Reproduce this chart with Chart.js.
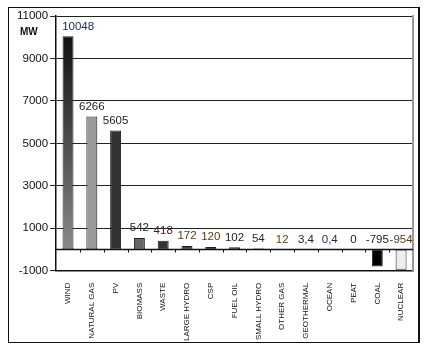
<!DOCTYPE html>
<html>
<head>
<meta charset="utf-8">
<script src="https://cdn.jsdelivr.net/npm/chart.js@4"></script>
<style>
  html, body { margin: 0; padding: 0; background: #fff; }
  body { width: 429px; height: 352px; position: relative; overflow: hidden; }
  #frame { position: absolute; left: 8px; top: 7px; width: 409px; height: 334px; border: 1.5px solid #111; border-right-width: 2px; }
  #mw { position: absolute; left: 20px; top: 26px; font: bold 10px "Liberation Sans", Arial, sans-serif; color: #111; }
  #capacityChart { position: absolute; left: 0; top: 0; }
</style>
</head>
<body>
<div id="frame"></div>
<canvas id="capacityChart" width="429" height="352"></canvas>
<div id="mw">MW</div>
<script>
// net installed capacity change by source (MW)
var labels = ["WIND", "NATURAL GAS", "PV", "BIOMASS", "WASTE", "LARGE HYDRO", "CSP", "FUEL OIL",
              "SMALL HYDRO", "OTHER GAS", "GEOTHERMAL", "OCEAN", "PEAT", "COAL", "NUCLEAR"];
var values = [10048, 6266, 5605, 542, 418, 172, 120, 102, 54, 12, 3.4, 0.4, 0, -795, -954];
var valueText = ["10048", "6266", "5605", "542", "418", "172", "120", "102", "54", "12", "3,4", "0,4", "0", "-795", "-954"];
var barColors = ["#555555", "#999999", "#333333", "#666666", "#333333", "#444444", "#222222", "#777777",
                 "#111111", "#333333", "#333333", "#333333", "#333333", "#000000", "#eeeeee"];
var labelColors = ["#1a2550", "#222222", "#222222", "#222222", "#4a1a1a", "#5a3a10", "#5a3a10", "#222222",
                   "#1a2550", "#6a4010", "#222222", "#1a2550", "#222222", "#222222", "#5a3a10"];
var yTicks = [-1000, 1000, 3000, 5000, 7000, 9000, 11000];

var ctx = document.getElementById("capacityChart");

// wind bar has a dark-top gradient like the original
function windFill(context) {
    var chart = context.chart;
    if (!chart.chartArea) return barColors[0];
    if (context.dataIndex !== 0) return barColors[context.dataIndex];
    var y = chart.scales.y;
    var g = chart.ctx.createLinearGradient(0, y.getPixelForValue(values[0]), 0, y.getPixelForValue(0));
    g.addColorStop(0, "#111111");
    g.addColorStop(1, "#8a8a8a");
    return g;
}

var extras = {
    id: "extras",
    afterDatasetsDraw: function(chart) {
        var c = chart.ctx;
        var area = chart.chartArea;
        var y = chart.scales.y;
        var y0 = y.getPixelForValue(0);

        c.save();
        // zero line with small ticks between categories
        c.strokeStyle = "#111";
        c.lineWidth = 1.5;
        c.beginPath();
        c.moveTo(area.left, y0);
        c.lineTo(area.right, y0);
        c.stroke();
        c.lineWidth = 1;
        var step = (area.right - area.left) / labels.length;
        for (var i = 1; i < labels.length; i++) {
            var tx = Math.round(area.left + step * i) + 0.5;
            c.beginPath();
            c.moveTo(tx, y0);
            c.lineTo(tx, y0 + 3);
            c.stroke();
        }

        // value labels
        c.font = "11.5px 'Liberation Sans', Arial, sans-serif";
        c.textAlign = "center";
        c.textBaseline = "bottom";
        var meta = chart.getDatasetMeta(0);
        meta.data.forEach(function(bar, i) {
            var px = bar.x;
            var w = c.measureText(valueText[i]).width;
            if (px - w / 2 < area.left + 6) px = area.left + 6 + w / 2;
            var py = values[i] >= 0 ? bar.y - 4 : y0 - 4;
            c.fillStyle = labelColors[i];
            c.fillText(valueText[i], px, py);
        });
        c.restore();
    }
};

new Chart(ctx, {
    type: "bar",
    data: {
        labels: labels,
        datasets: [
            {
                data: values,
                backgroundColor: windFill,
                borderColor: "#222",
                borderWidth: 1,
                borderSkipped: false,
                barPercentage: 0.46,
                categoryPercentage: 1,
            },
        ],
    },
    options: {
        responsive: false,
        animation: false,
        devicePixelRatio: 1,
        layout: { padding: { top: 16, left: 15, right: 8, bottom: 7 } },
        plugins: {
            legend: { display: false },
            tooltip: { enabled: false },
        },
        scales: {
            x: {
                offset: true,
                grid: { display: false },
                border: { display: true, color: "#111", width: 1.5 },
                ticks: {
                    color: "#111",
                    font: { family: "'Liberation Sans', Arial, sans-serif", size: 8 },
                    minRotation: 90,
                    maxRotation: 90,
                    autoSkip: false,
                    padding: 4,
                },
            },
            y: {
                min: -1000,
                max: 11000,
                afterBuildTicks: function(scale) {
                    scale.ticks = yTicks.map(function(v) { return { value: v }; });
                },
                grid: {
                    color: "#222",
                    lineWidth: 1,
                    tickLength: 6,
                    drawTicks: true,
                },
                border: { display: true, color: "#111", width: 1.5 },
                ticks: {
                    color: "#111",
                    padding: 2,
                    autoSkip: false,
                    font: { family: "'Liberation Sans', Arial, sans-serif", size: 11.5 },
                    callback: function(v) { return String(v); },
                },
            },
            y2: {
                position: "right",
                min: -1000,
                max: 11000,
                grid: { display: false },
                ticks: { display: false },
                border: { display: true, color: "#999", width: 2 },
            },
        },
    },
    plugins: [extras],
});
</script>
</body>
</html>
